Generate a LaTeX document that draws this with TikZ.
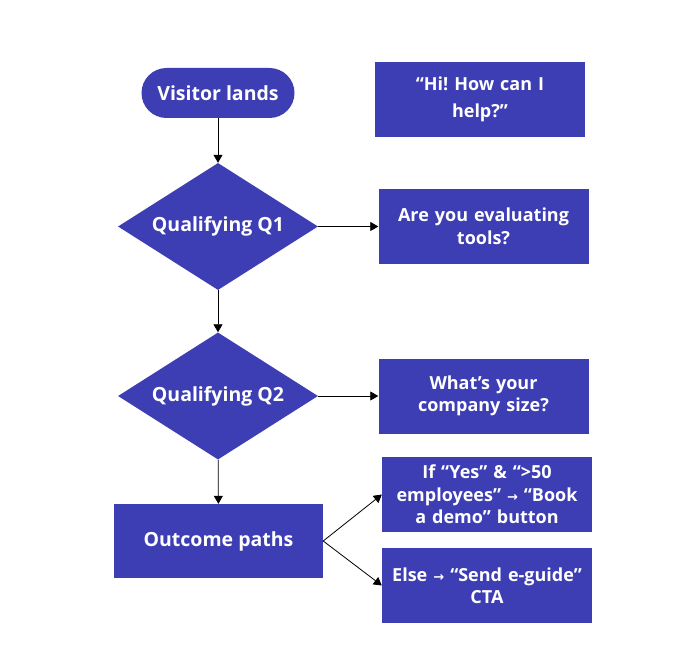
\documentclass[tikz,border=0pt]{standalone}
\usepackage{fontspec}
\setmainfont{Open Sans}[BoldFont={* Bold}]
\newfontfamily\symfont{DejaVu Sans}
\usetikzlibrary{shapes.geometric,arrows.meta}
\definecolor{boxblue}{RGB}{61,61,180}
\frenchspacing
\tikzset{
  x=1pt,y=-1pt,
  base/.style={fill=boxblue,text=white,font=\fontsize{19.5}{24}\selectfont\bfseries,align=center,inner sep=0pt},
  pill/.style={base,rounded corners=25pt,minimum width=153pt,minimum height=50pt},
  sbox/.style={base,font=\fontsize{18}{22.5}\selectfont\bfseries,minimum width=210pt,minimum height=75pt,text width=205pt},
  obox/.style={base,minimum width=209pt,minimum height=74pt},
  dia/.style={base,diamond,aspect=1.57,minimum width=200pt,minimum height=127pt},
  conn/.style={draw=black,line width=0.8pt,-{Triangle[width=9pt,length=8pt]}}
}
\newcommand{\arr}{{\symfont\bfseries\fontsize{13}{20}\selectfont →}}
\begin{document}
\begin{tikzpicture}
\path[use as bounding box,fill=white] (0,0) rectangle (692,663);
\node[pill] (visit) at (218,93) {Visitor lands};
\node[sbox] (hi) at (480,99.5) {“Hi! How can I\\[4pt]help?”};
\node[dia] (q1) at (218,226.5) {Qualifying Q1};
\node[sbox] (eval) at (483.5,226.5) {Are you evaluating\\tools?};
\node[dia] (q2) at (218,396) {Qualifying Q2};
\node[sbox] (size) at (483.5,396) {What’s your\\company size?};
\node[obox] (out) at (218.5,541) {Outcome paths};
\node[sbox] (demo) at (487,494.5) {If “Yes” \& “>50\\employees” \arr{} “Book\\a demo” button};
\node[sbox] (guide) at (487,585.5) {Else \arr{} “Send e-guide”\\CTA};
\draw[conn] (visit) -- (q1);
\draw[conn] (q1) -- (q2);
\draw[conn] (q2) -- (out);
\draw[conn] (q1.east) -- (eval.west);
\draw[conn] (q2.east) -- (size.west);
\draw[conn] (out.east) -- (demo.west);
\draw[conn] (out.east) -- (guide.west);
\end{tikzpicture}
\end{document}
